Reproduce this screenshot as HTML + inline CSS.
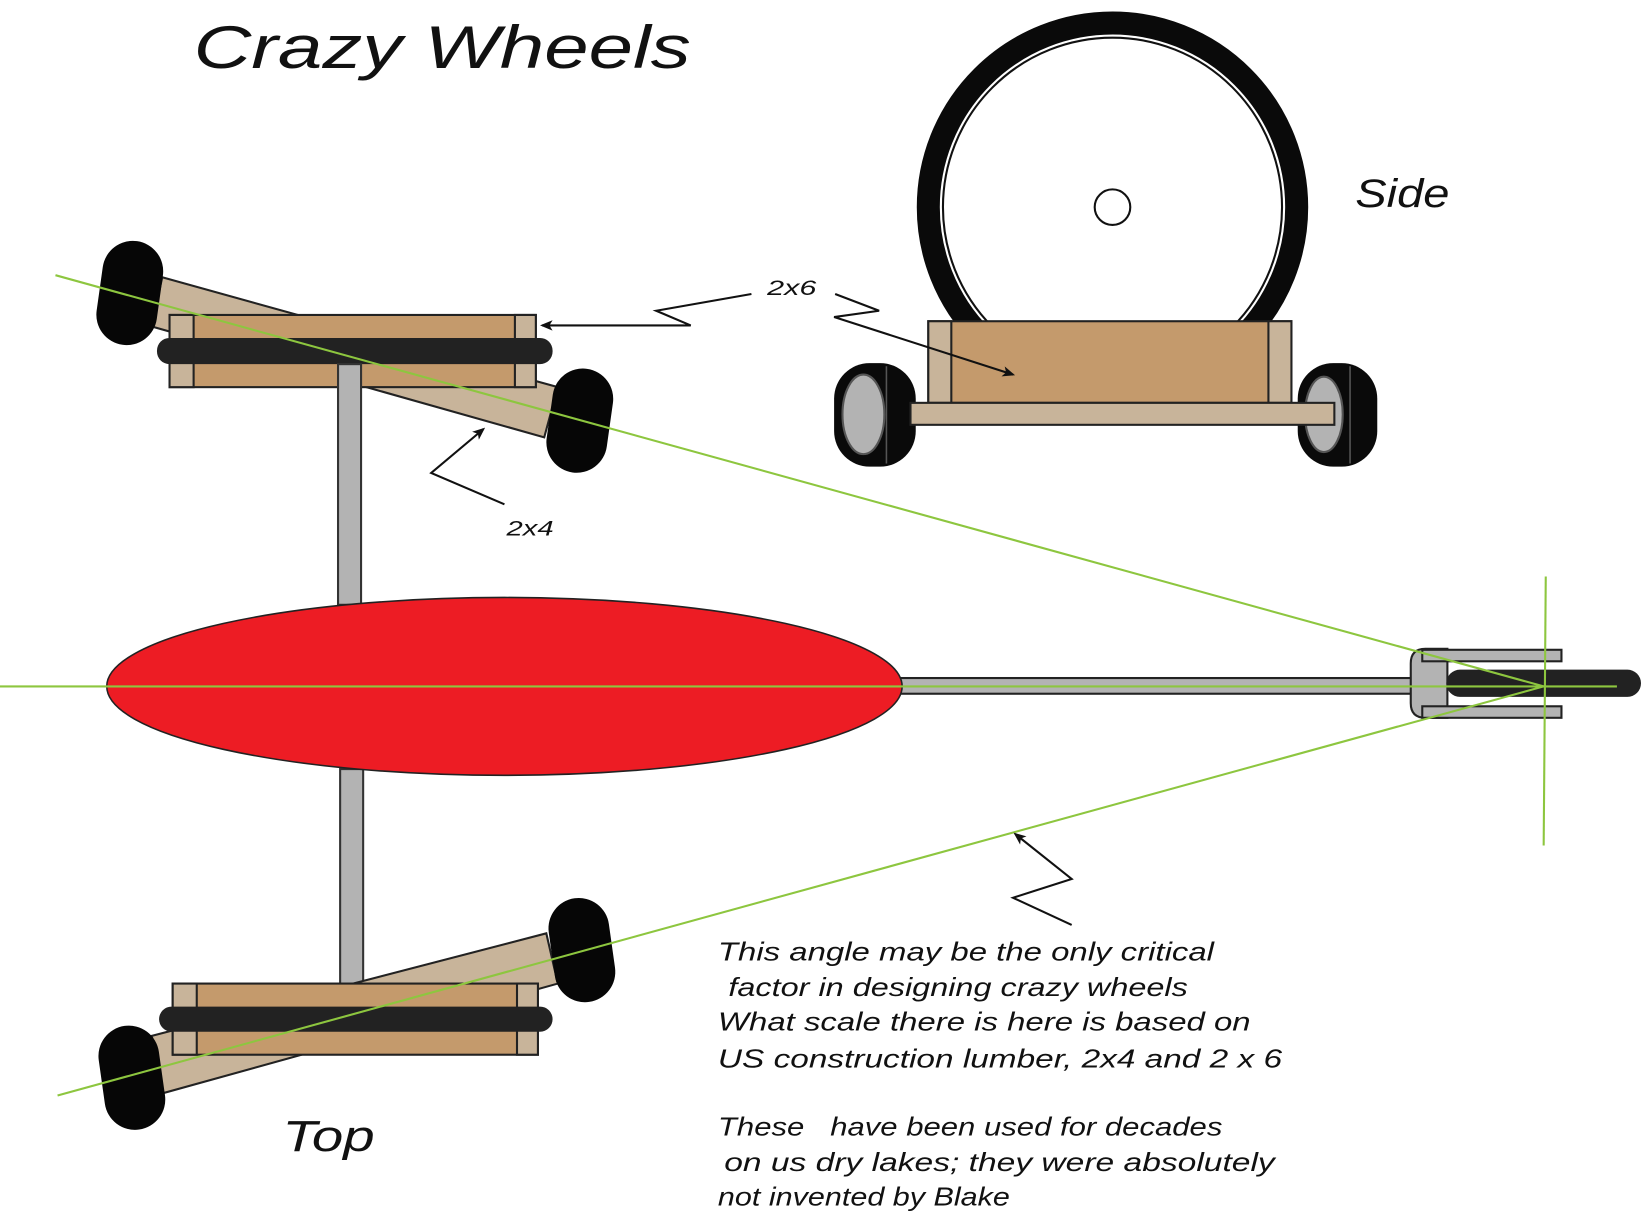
<!DOCTYPE html>
<html><head><meta charset="utf-8"><style>
html,body{margin:0;padding:0;background:#fff;}
svg{display:block;}
text{font-family:"Liberation Sans",sans-serif;font-style:italic;fill:#111;}
</style></head><body>
<svg width="1641" height="1219" viewBox="0 0 1568 1165" preserveAspectRatio="none" xmlns="http://www.w3.org/2000/svg">
<defs><marker id="ah" markerWidth="12" markerHeight="10" refX="10" refY="5" orient="auto" markerUnits="userSpaceOnUse"><path d="M0,0 L12,5 L0,10 L3,5z" fill="#111"/></marker></defs>
<text x="185" y="65" font-size="58" textLength="475" lengthAdjust="spacingAndGlyphs">Crazy Wheels</text>
<!-- side view -->
<circle cx="1063" cy="198" r="176" fill="none" stroke="#0a0a0a" stroke-width="22"/>
<circle cx="1063" cy="198" r="162" fill="none" stroke="#111" stroke-width="2"/>
<circle cx="1063" cy="198" r="17" fill="#fff" stroke="#111" stroke-width="2"/>
<rect x="887" y="307" width="347" height="78" fill="#c49a6c" stroke="#222" stroke-width="2"/>
<rect x="887" y="307" width="22" height="78" fill="#c8b49a" stroke="#222" stroke-width="2"/>
<rect x="1212" y="307" width="22" height="78" fill="#c8b49a" stroke="#222" stroke-width="2"/>
<rect x="797" y="347" width="78" height="99" rx="34" fill="#0a0a0a"/>
<ellipse cx="825" cy="396" rx="20" ry="38" fill="#b3b3b3" stroke="#555" stroke-width="2"/>
<line x1="847" y1="350" x2="847" y2="443" stroke="#555" stroke-width="1.5"/>
<rect x="1240" y="347" width="76" height="99" rx="34" fill="#0a0a0a"/>
<ellipse cx="1265" cy="396" rx="18" ry="36" fill="#b3b3b3" stroke="#555" stroke-width="2"/>
<line x1="1290" y1="350" x2="1290" y2="443" stroke="#555" stroke-width="1.5"/>
<rect x="870" y="385" width="405" height="21" fill="#c8b49a" stroke="#222" stroke-width="2"/>
<text x="1295" y="198" font-size="38" textLength="90" lengthAdjust="spacingAndGlyphs">Side</text>
<text x="733" y="282" font-size="20" textLength="47" lengthAdjust="spacingAndGlyphs">2x6</text>
<polyline points="718,281 627,297 660,311 518,311" fill="none" stroke="#111" stroke-width="2" marker-end="url(#ah)"/>
<polyline points="798,281 840,297 797,303 968,358" fill="none" stroke="#111" stroke-width="2" marker-end="url(#ah)"/>
<!-- top front assembly -->
<g>
<polygon points="155,265 533,370 520,418 145,312" fill="#c8b49a" stroke="#222" stroke-width="2"/>
<rect x="162" y="301" width="350" height="69" fill="#c49a6c" stroke="#222" stroke-width="2"/>
<rect x="162" y="301" width="23" height="69" fill="#c8b49a" stroke="#222" stroke-width="2"/>
<rect x="492" y="301" width="20" height="69" fill="#c8b49a" stroke="#222" stroke-width="2"/>
<rect x="150" y="323" width="378" height="25" rx="12" fill="#222"/>
<rect x="95" y="230" width="58" height="100" rx="29" fill="#060606" transform="rotate(8 124 280)"/>
<rect x="525" y="352" width="58" height="100" rx="29" fill="#060606" transform="rotate(8 554 402)"/>
</g>
<rect x="323" y="348" width="22" height="230" fill="#b3b3b3" stroke="#333" stroke-width="2"/>
<rect x="325" y="735" width="22" height="227" fill="#b3b3b3" stroke="#333" stroke-width="2"/>
<!-- bottom assembly -->
<g>
<polygon points="145,990 522,892 533,940 155,1045" fill="#c8b49a" stroke="#222" stroke-width="2"/>
<rect x="165" y="940" width="349" height="68" fill="#c49a6c" stroke="#222" stroke-width="2"/>
<rect x="165" y="940" width="23" height="68" fill="#c8b49a" stroke="#222" stroke-width="2"/>
<rect x="494" y="940" width="20" height="68" fill="#c8b49a" stroke="#222" stroke-width="2"/>
<rect x="152" y="962" width="376" height="24" rx="12" fill="#222"/>
<rect x="97" y="980" width="58" height="100" rx="29" fill="#060606" transform="rotate(-8 126 1030)"/>
<rect x="527" y="858" width="58" height="100" rx="29" fill="#060606" transform="rotate(-8 556 908)"/>
</g>
<!-- rod and rear -->
<rect x="858" y="648" width="495" height="15" fill="#b3b3b3" stroke="#222" stroke-width="2"/>
<ellipse cx="482" cy="656" rx="380" ry="85" fill="#ed1c24" stroke="#222" stroke-width="1.5"/>
<path d="M1362,620 L1383,620 L1383,686 L1362,686 Q1348,686 1348,672 L1348,634 Q1348,620 1362,620z" fill="#b3b3b3" stroke="#222" stroke-width="2"/>
<rect x="1359" y="621" width="133" height="11" fill="#b3b3b3" stroke="#222" stroke-width="2"/>
<rect x="1359" y="675" width="133" height="11" fill="#b3b3b3" stroke="#222" stroke-width="2"/>
<rect x="1382" y="640" width="186" height="26" rx="13" fill="#222"/>
<!-- green lines -->
<g stroke="#8dc63f" stroke-width="2">
<line x1="0" y1="656" x2="1545" y2="656"/>
<line x1="1477" y1="551" x2="1475" y2="808"/>
<line x1="53" y1="263" x2="1475" y2="656"/>
<line x1="55" y1="1047" x2="1475" y2="656"/>
</g>
<text x="484" y="512" font-size="20" textLength="45" lengthAdjust="spacingAndGlyphs">2x4</text>
<polyline points="482,482 412,452 462,410" fill="none" stroke="#111" stroke-width="2" marker-end="url(#ah)"/>
<polyline points="1024,884 968,858 1024,840 970,797" fill="none" stroke="#111" stroke-width="2" marker-end="url(#ah)"/>
<text x="270" y="1100" font-size="42" textLength="88" lengthAdjust="spacingAndGlyphs">Top</text>
<g font-size="25">
<text x="686" y="918" textLength="474" lengthAdjust="spacingAndGlyphs">This angle may be the only critical</text>
<text x="696" y="952" textLength="439" lengthAdjust="spacingAndGlyphs">factor in designing crazy wheels</text>
<text x="686" y="985" textLength="509" lengthAdjust="spacingAndGlyphs">What scale there is here is based on</text>
<text x="686" y="1020" textLength="539" lengthAdjust="spacingAndGlyphs">US construction lumber, 2x4 and 2 x 6</text>
<text x="686" y="1085" textLength="482" lengthAdjust="spacingAndGlyphs">These&#160;&#160; have been used for decades</text>
<text x="692" y="1119" textLength="526" lengthAdjust="spacingAndGlyphs">on us dry lakes; they were absolutely</text>
<text x="686" y="1152" textLength="279" lengthAdjust="spacingAndGlyphs">not invented by Blake</text>
</g>
</svg>
</body></html>
